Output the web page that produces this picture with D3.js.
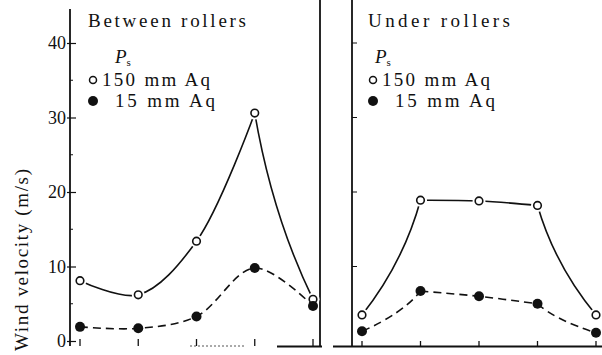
<!DOCTYPE html>
<html>
<head>
<meta charset="utf-8">
<script src="https://cdn.jsdelivr.net/npm/d3@7"></script>
<style>
  html, body { margin: 0; padding: 0; background: #fff; }
  svg { display: block; }
  svg text { fill: #111; }
</style>
</head>
<body>
<svg id="chart" width="602" height="355"></svg>
<script>
// ---- data ----
const positions = ["1", "2", "3", "4", "5"];
const betweenHigh = [8.1, 6.2, 13.4, 30.6, 5.6];   // Ps = 150 mm Aq, between rollers
const betweenLow  = [1.9, 1.7, 3.3, 9.8, 4.7];     // Ps = 15 mm Aq, between rollers
const underHigh   = [3.5, 18.9, 18.8, 18.2, 3.5];  // Ps = 150 mm Aq, under rollers
const underLow    = [1.3, 6.7, 6.0, 5.0, 1.1];     // Ps = 15 mm Aq, under rollers
const yTicks = [0, 10, 20, 30, 40];
const yMinorTicks = [5, 15, 25, 35];
const panelTitles = ["Between rollers", "Under rollers"];
const legendLabels = ["150 mm Aq", "15 mm Aq"];
const yLabel = "Wind velocity (m/s)";

// ---- pick an installed serif font ----
function pickFont(cands) {
  const c = document.createElement("canvas").getContext("2d");
  const s = "Between rollers 150 mm Aq Wl";
  for (const f of cands) {
    let ok = false;
    for (const base of ["monospace", "sans-serif"]) {
      c.font = "40px " + base; const w0 = c.measureText(s).width;
      c.font = "40px '" + f + "', " + base; const w1 = c.measureText(s).width;
      if (Math.abs(w0 - w1) > 0.5) ok = true;
    }
    if (ok) return "'" + f + "'";
  }
  return "serif";
}
const serif = pickFont(["Liberation Serif", "Times New Roman", "Tinos", "DejaVu Serif", "Noto Serif", "FreeSerif", "Times"]) + ", serif";

// ---- layout ----
const svg = d3.select("#chart").attr("font-family", serif).style("font-family", serif);
const ink = "#111";
const y = d3.scaleLinear().domain([0, 40]).range([341, 43]);
const xL = d3.scalePoint().domain(positions).range([80, 313]);
const xR = d3.scalePoint().domain(positions).range([362, 596]);

// axis: left y axis
const yAxis = d3.axisLeft(y).tickValues(yTicks).tickSizeInner(-6).tickSizeOuter(0).tickPadding(4);
const gy = svg.append("g").attr("transform", "translate(70,0)").call(yAxis)
  .attr("font-family", serif);
gy.select(".domain").remove();
gy.selectAll(".tick line").attr("stroke", ink).attr("stroke-width", 1.2).attr("x1", -3);
gy.selectAll(".tick text").style("font-size", "18px").style("font-family", serif).attr("fill", ink);
svg.append("line").attr("x1", 70).attr("x2", 70).attr("y1", 9).attr("y2", 346)
  .attr("stroke", ink).attr("stroke-width", 1.8);
svg.append("g").selectAll("line").data(yMinorTicks).join("line")
  .attr("x1", 70).attr("x2", 73).attr("y1", d => y(d)).attr("y2", d => y(d))
  .attr("stroke", ink).attr("stroke-width", 1);

// panel separator and right panel axis
svg.append("line").attr("x1", 320).attr("x2", 320).attr("y1", 0).attr("y2", 347)
  .attr("stroke", ink).attr("stroke-width", 1.8);
svg.append("line").attr("x1", 352).attr("x2", 352).attr("y1", 0).attr("y2", 347)
  .attr("stroke", ink).attr("stroke-width", 1.8);
svg.append("g").selectAll("line").data(yTicks.filter(d => d > 0)).join("line")
  .attr("x1", 352).attr("x2", 357).attr("y1", d => y(d)).attr("y2", d => y(d))
  .attr("stroke", ink).attr("stroke-width", 1);

// baselines
svg.append("line").attr("x1", 333).attr("x2", 602).attr("y1", 346.5).attr("y2", 346.5)
  .attr("stroke", ink).attr("stroke-width", 2);
svg.append("line").attr("x1", 277).attr("x2", 322).attr("y1", 346.5).attr("y2", 346.5)
  .attr("stroke", ink).attr("stroke-width", 2);
svg.append("line").attr("x1", 190).attr("x2", 245).attr("y1", 346).attr("y2", 346)
  .attr("stroke", "#555").attr("stroke-width", 1).attr("stroke-dasharray", "2,2");
// bottom ticks
svg.append("g").selectAll("line").data(positions).join("line")
  .attr("x1", d => xL(d)).attr("x2", d => xL(d)).attr("y1", 339).attr("y2", 346)
  .attr("stroke", ink).attr("stroke-width", 1.3);
svg.append("g").selectAll("line").data(positions).join("line")
  .attr("x1", d => xR(d)).attr("x2", d => xR(d)).attr("y1", 341).attr("y2", 346)
  .attr("stroke", ink).attr("stroke-width", 1.3);

// y label
svg.append("text")
  .attr("transform", "translate(28,351) rotate(-90)")
  .attr("textLength", 182).attr("lengthAdjust", "spacing")
  .style("font-size", "19px").style("font-family", serif)
  .text(yLabel);

// ---- curves ----
function buildPath(pts, corners) {
  const br = Array.from(new Set([0, ...corners, pts.length - 1])).sort((a, b) => a - b);
  let d = "";
  for (let k = 0; k < br.length - 1; k++) {
    const a = br[k], b = br[k + 1];
    const run = pts.slice(a, b + 1);
    if (run.length >= 3) {
      d += d3.line().curve(d3.curveCatmullRom.alpha(0.5))(run);
    } else {
      const [p0, p1] = run;
      const hi = p0[1] < p1[1] ? p0 : p1;
      const lo = hi === p0 ? p1 : p0;
      const cx = hi[0] + 0.3 * (lo[0] - hi[0]);
      const cy = hi[1] + 0.55 * (lo[1] - hi[1]);
      const p = d3.path();
      p.moveTo(p0[0], p0[1]);
      p.quadraticCurveTo(cx, cy, p1[0], p1[1]);
      d += p.toString();
    }
  }
  return d;
}

const series = [
  { vals: betweenHigh, x: xL, corners: [3], open: true },
  { vals: betweenLow,  x: xL, corners: [],  open: false },
  { vals: underHigh,   x: xR, corners: [1, 3], open: true },
  { vals: underLow,    x: xR, corners: [1, 3], open: false }
];

series.forEach(s => {
  const pts = s.vals.map((v, i) => [s.x(positions[i]), y(v)]);
  svg.append("path")
    .attr("d", buildPath(pts, s.corners))
    .attr("fill", "none").attr("stroke", ink)
    .attr("stroke-width", 1.6)
    .attr("stroke-dasharray", s.open ? null : "8,5");
  const g = svg.append("g");
  if (s.open) {
    g.selectAll("circle.halo").data(pts).join("circle").attr("class", "halo")
      .attr("cx", d => d[0]).attr("cy", d => d[1]).attr("r", 6.5).attr("fill", "#fff");
    g.selectAll("circle.m").data(pts).join("circle").attr("class", "m")
      .attr("cx", d => d[0]).attr("cy", d => d[1]).attr("r", 3.8)
      .attr("fill", "#fff").attr("stroke", ink).attr("stroke-width", 1.6);
  } else {
    g.selectAll("circle.m").data(pts).join("circle").attr("class", "m")
      .attr("cx", d => d[0]).attr("cy", d => d[1]).attr("r", 5).attr("fill", ink);
  }
});

// ---- titles and legends ----
const panels = [
  { tx: 88, tLen: 158, px: 115, cx: 93 },
  { tx: 368, tLen: 142, px: 375, cx: 373 }
];
panels.forEach((p, i) => {
  svg.append("text").attr("x", p.tx).attr("y", 27)
    .attr("textLength", p.tLen).attr("lengthAdjust", "spacing")
    .style("font-size", "19px").style("font-family", serif).text(panelTitles[i]);
  const ps = svg.append("text").attr("x", p.px).attr("y", 63)
    .style("font-size", "19px").style("font-family", serif);
  ps.append("tspan").style("font-style", "italic").text("P");
  ps.append("tspan").attr("dy", 3).style("font-size", "11px").text("s");
  svg.append("circle").attr("cx", p.cx).attr("cy", 80).attr("r", 3.5)
    .attr("fill", "#fff").attr("stroke", ink).attr("stroke-width", 1.5);
  svg.append("text").attr("x", p.cx + 9).attr("y", 86)
    .attr("textLength", 108).attr("lengthAdjust", "spacing")
    .style("font-size", "19px").style("font-family", serif).text(legendLabels[0]);
  svg.append("circle").attr("cx", p.cx).attr("cy", 101).attr("r", 5).attr("fill", ink);
  svg.append("text").attr("x", p.cx + 22).attr("y", 107)
    .attr("textLength", 100).attr("lengthAdjust", "spacing")
    .style("font-size", "19px").style("font-family", serif).text(legendLabels[1]);
});
</script>
</body>
</html>
